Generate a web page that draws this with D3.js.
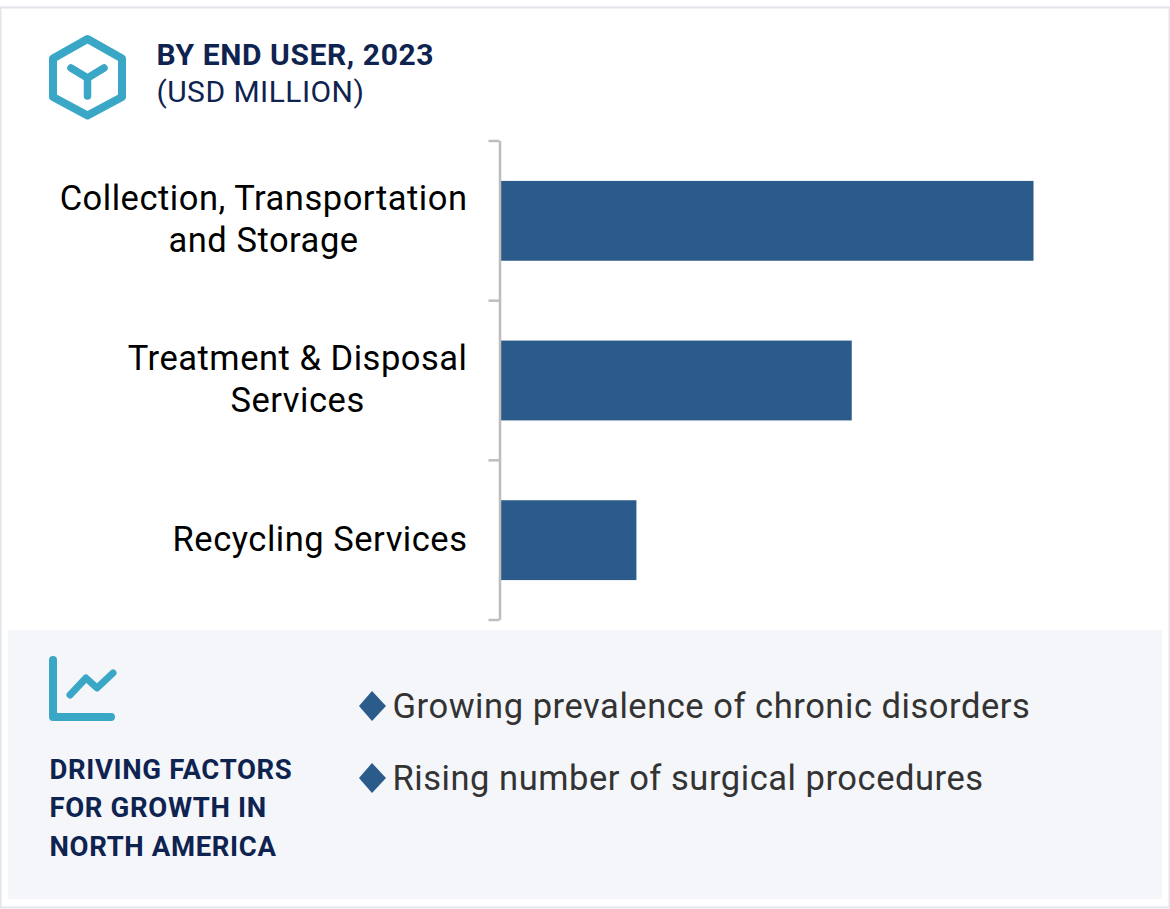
<!DOCTYPE html>
<html>
<head>
<meta charset="utf-8">
<script src="https://cdn.jsdelivr.net/npm/d3@7"></script>
<style>
  html, body { margin: 0; padding: 0; background: #fff; }
  svg { display: block; }
  text { font-family: Roboto, sans-serif; }
</style>
</head>
<body>
<div class="chart"></div>
<script>
// data
const categories = ["Collection, Transportation and Storage", "Treatment & Disposal Services", "Recycling Services"];
const categoryLines = [["Collection, Transportation", "and Storage"], ["Treatment & Disposal", "Services"], ["Recycling Services"]];
const values = [100, 65.9, 25.5]; // no value axis in the picture, read as share of the longest bar
const titleLines = ["BY END USER, 2023", "(USD MILLION)"];
const driverTitle = ["DRIVING FACTORS", "FOR GROWTH IN", "NORTH AMERICA"];
const drivers = ["Growing prevalence of chronic disorders", "Rising number of surgical procedures"];

// setup chart
const width = 1170;
const height = 909;
const navy = "#0f2350";
const teal = "#3aa7c6";
const barColor = "#2b5b8a";
const chart = d3.select(".chart").append("svg").attr("width", width).attr("height", height);

// outer frame and bottom panel
chart.append("rect").attr("x", 0.5).attr("y", 7.5).attr("width", width - 1).attr("height", 900)
   .attr("fill", "#fff").attr("stroke", "#e3e4ec").attr("stroke-width", 2);
chart.append("rect").attr("x", 8).attr("y", 630).attr("width", 1154).attr("height", 269).attr("fill", "#f4f6fa");

// hexagon icon
const hex = chart.append("g").attr("fill", "none").attr("stroke", teal).attr("stroke-linejoin", "round").attr("stroke-linecap", "round");
hex.append("path").attr("d", "M87.5,39 L122,58.5 L122,97 L87.5,115.5 L53,97 L53,58.5 Z").attr("stroke-width", 8);
hex.append("path").attr("d", "M71,68 L87.5,78 L104,68 M87.5,78 L87.5,96").attr("stroke-width", 7.5);

// title
chart.append("text").attr("x", 156.5).attr("y", 65).attr("fill", navy).attr("font-size", 30)
   .attr("letter-spacing", 0.6).attr("font-weight", 700).text(titleLines[0]);
chart.append("text").attr("x", 156.5).attr("y", 102).attr("fill", navy).attr("font-size", 30)
   .attr("letter-spacing", 0.45).text(titleLines[1]);

// scales
const x = d3.scaleLinear().domain([0, 100]).range([500.5, 1033.5]);
const y = d3.scaleBand().domain(categories).range([141, 620]).paddingInner(0.5).paddingOuter(0.25);
const edges = d3.scaleLinear().domain([0, categories.length]).range([141, 620]);

// bars
chart.append("g").selectAll("rect").data(values).enter().append("rect")
   .attr("x", x(0))
   .attr("y", (d, i) => y(categories[i]))
   .attr("width", (d) => x(d) - x(0))
   .attr("height", y.bandwidth())
   .attr("fill", barColor);

// category axis, ticks sit between the bars
const axis = d3.axisLeft(edges).tickValues(d3.range(categories.length + 1)).tickSize(11).tickSizeOuter(0).tickFormat("");
const axisG = chart.append("g").attr("transform", "translate(499.5,-0.5)").call(axis);
axisG.selectAll("line, path").attr("stroke", "#bdbdbd").attr("stroke-width", 2.5);

// category labels, each block centred on itself and flush right at the axis
const labels = chart.append("g").selectAll("text").data(categoryLines).enter().append("text")
   .attr("fill", "#000").attr("font-size", 34.5).attr("letter-spacing", 0.52).attr("text-anchor", "middle");
labels.each(function (lines, i) {
   const mid = y(categories[i]) + y.bandwidth() / 2;
   const spans = d3.select(this).selectAll("tspan").data(lines).enter().append("tspan")
      .attr("y", (d, j) => mid + (lines.length > 1 ? 10 : 11) + (j - (lines.length - 1) / 2) * 42)
      .text((d) => d);
   const blockWidth = d3.max(spans.nodes(), (n) => n.getComputedTextLength());
   spans.attr("x", 467.5 - blockWidth / 2);
});

// driver icon
const trend = chart.append("g").attr("fill", "none").attr("stroke", teal).attr("stroke-linecap", "round").attr("stroke-linejoin", "round");
trend.append("path").attr("d", "M53,660 L53,717 L111,717").attr("stroke-width", 8);
trend.append("path").attr("d", "M70,695 L86,678 L97,688 L113,673").attr("stroke-width", 7);

// driver heading
chart.append("g").selectAll("text").data(driverTitle).enter().append("text")
   .attr("x", 49.5).attr("y", (d, i) => 779 + i * 38.3)
   .attr("fill", navy).attr("font-size", 27.5).attr("letter-spacing", 0.65).attr("font-weight", 700).text((d) => d);

// driver bullets
const bullets = chart.append("g").selectAll("g").data(drivers).enter().append("g")
   .attr("transform", (d, i) => `translate(0,${706 + i * 72})`);
bullets.append("path").attr("d", "M372,-15 L386,0 L372,15 L359,0 Z").attr("fill", barColor);
bullets.append("text").attr("x", 392.5).attr("y", 12).attr("fill", "#333").attr("font-size", 34.5)
   .attr("letter-spacing", 0.54).text((d) => d);
</script>
</body>
</html>
